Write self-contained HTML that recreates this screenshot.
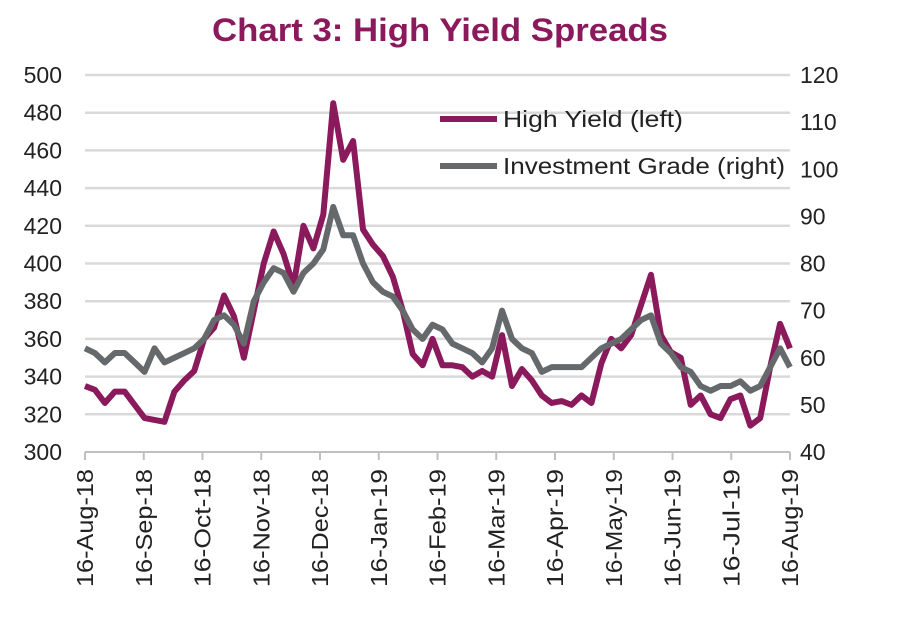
<!DOCTYPE html>
<html><head><meta charset="utf-8"><style>
body{margin:0;background:#fff;}
svg{display:block;font-family:"Liberation Sans",Arial,sans-serif;}
</style></head><body>
<svg id="chart" width="898" height="622" viewBox="0 0 898 622">
<text x="212" y="41" textLength="456" lengthAdjust="spacingAndGlyphs" font-size="32" font-weight="bold" fill="#8a1a5b">Chart 3: High Yield Spreads</text>
<g id="grid"></g><g id="axes"></g><g id="series"></g>
<g>
<line x1="440" y1="119" x2="497" y2="119" stroke="#8a1a5b" stroke-width="6"/>
<text x="503" y="127" textLength="180" lengthAdjust="spacingAndGlyphs" font-size="23" fill="#222">High Yield (left)</text>
<line x1="440" y1="166" x2="497" y2="166" stroke="#66696c" stroke-width="6"/>
<text x="503" y="174" textLength="282" lengthAdjust="spacingAndGlyphs" font-size="23" fill="#222">Investment Grade (right)</text>
</g>
</svg>
<script>
const xLabels=["16-Aug-18","16-Sep-18","16-Oct-18","16-Nov-18","16-Dec-18","16-Jan-19","16-Feb-19","16-Mar-19","16-Apr-19","16-May-19","16-Jun-19","16-Jul-19","16-Aug-19"];
const leftTicks=[300,320,340,360,380,400,420,440,460,480,500];
const rightTicks=[40,50,60,70,80,90,100,110,120];
const highYield=[335,333,326,332,332,325,318,317,316,332,338,343,360,366,383,372,350,375,400,417,405,388,420,408,426,485,455,465,418,410,404,393,375,352,346,360,346,346,345,340,343,340,362,335,344,338,330,326,327,325,330,326,347,360,355,362,378,394,362,353,350,325,330,320,318,328,330,314,318,345,368,355];
const investmentGrade=[62,61,59,61,61,59,57,62,59,60,61,62,64,68,69,67,63,72,76,79,78,74,78,80,83,92,86,86,80,76,74,73,70,66,64,67,66,63,62,61,59,62,70,64,62,61,57,58,58,58,58,60,62,63,64,66,68,69,63,61,58,57,54,53,54,54,55,53,54,58,62,58];
const NS="http://www.w3.org/2000/svg";
const X0=85,X1=790,YB=452,YT=75;
const xIdx=i=>X0+(X1-X0)*i/(highYield.length-1);
const xMonth=m=>X0+(X1-X0)*m/(xLabels.length-1);
const yL=v=>YB-(v-300)/200*(YB-YT);
const yR=v=>YB-(v-40)/80*(YB-YT);
const grid=document.getElementById('grid'),axes=document.getElementById('axes'),ser=document.getElementById('series');
function mk(t,a,p){const e=document.createElementNS(NS,t);for(const k in a)e.setAttribute(k,a[k]);p.appendChild(e);return e;}
leftTicks.forEach(v=>{
  if(v>300){const l=mk('line',{x1:X0,x2:X1,y1:yL(v),y2:yL(v),stroke:'#d9d9d9','stroke-width':2.5},grid);
  
  }
  const t=mk('text',{x:62,y:yL(v)+8,'text-anchor':'end','font-size':23,fill:'#222'},axes);
  
  
  t.textContent=v;
});
rightTicks.forEach(v=>{
  const t=mk('text',{x:800,y:yR(v)+8,'font-size':23,fill:'#222'},axes);
  
  
  t.textContent=v;
});
const ax=mk('line',{x1:X0,x2:X1,y1:YB,y2:YB,stroke:'#bfbfbf','stroke-width':2},axes);


xLabels.forEach((s,m)=>{
  const x=xMonth(m);
  const tk=mk('line',{x1:x,x2:x,y1:YB,y2:YB+8,stroke:'#bfbfbf','stroke-width':2},axes);
  
  
  const t=mk('text',{x:0,y:0,'text-anchor':'end','font-size':23,textLength:118,lengthAdjust:'spacingAndGlyphs',fill:'#222',transform:`translate(${x+8},${YB+17}) rotate(-90)`},axes);
  
  
  t.textContent=s;
});
const ig=mk('polyline',{points:investmentGrade.map((v,i)=>xIdx(i)+','+yR(v)).join(' '),fill:'none',stroke:'#66696c','stroke-width':6,'stroke-linejoin':'round'},ser);


const hy=mk('polyline',{points:highYield.map((v,i)=>xIdx(i)+','+yL(v)).join(' '),fill:'none',stroke:'#8a1a5b','stroke-width':6,'stroke-linejoin':'round'},ser);


ser.insertBefore(hy,ig);
</script>
</body></html>
